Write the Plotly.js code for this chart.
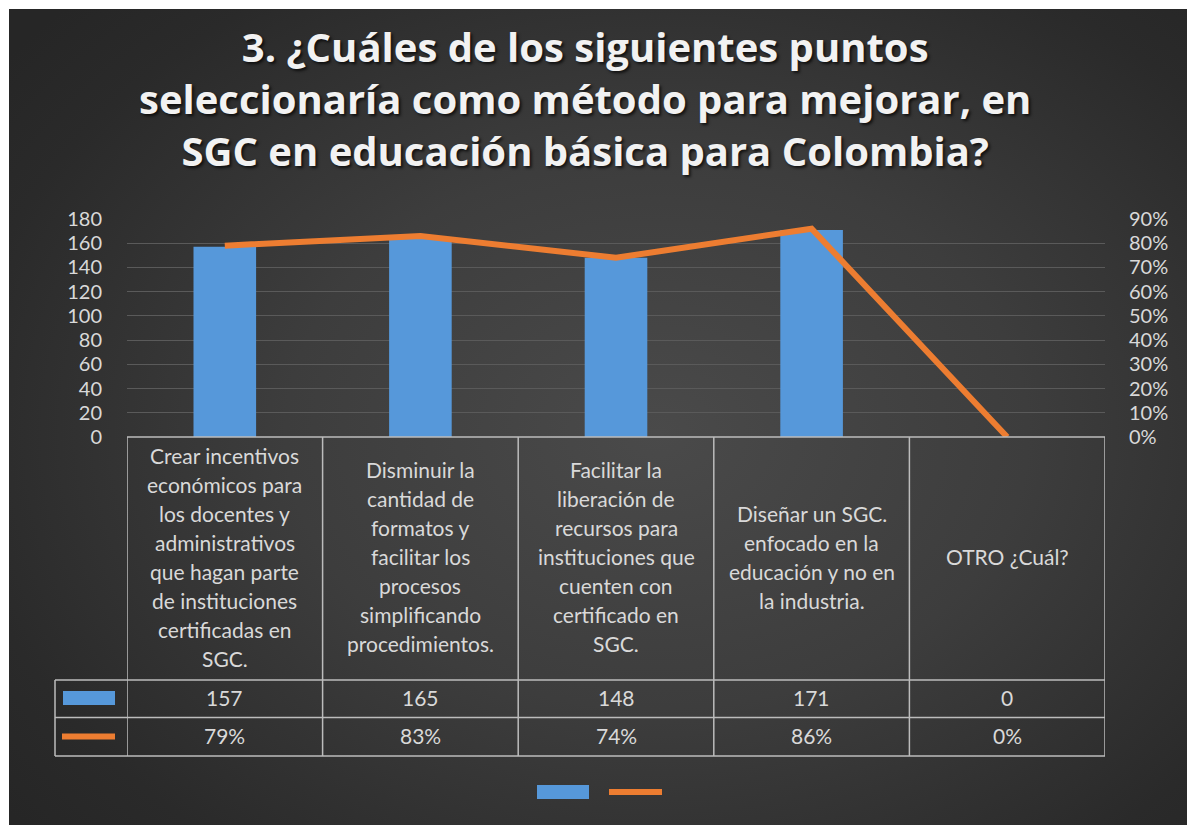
<!DOCTYPE html>
<html>
<head>
<meta charset="utf-8">
<script src="https://cdn.plot.ly/plotly-3.0.1.min.js"></script>
<style>
  html, body { margin: 0; padding: 0; background: #ffffff; }
  #bg { position: absolute; left: 9px; top: 9px; width: 1178px; height: 816px;
        background: radial-gradient(ellipse 70% 75% at 55% 52%, #4a4a4a 0%, #3d3d3d 45%, #2a2a2a 85%, #262626 100%); }
  #chart { position: absolute; left: 0; top: 0; width: 1187px; height: 825px; }
</style>
</head>
<body>
<div id="bg"></div>
<div id="chart"></div>
<script>
const categories = [
  "Crear incentivos económicos para los docentes y administrativos que hagan parte de instituciones certificadas en SGC.",
  "Disminuir la cantidad de formatos y facilitar los procesos simplificando procedimientos.",
  "Facilitar la liberación de recursos para instituciones que cuenten con certificado en SGC.",
  "Diseñar un SGC. enfocado en la educación y no en la industria.",
  "OTRO ¿Cuál?"
];
const counts = [157, 165, 148, 171, 0];
const percents = [0.79, 0.83, 0.74, 0.86, 0];
const countLabels = ["157", "165", "148", "171", "0"];
const percentLabels = ["79%", "83%", "74%", "86%", "0%"];
const titleText = "3. ¿Cuáles de los siguientes puntos<br>seleccionaría como método para mejorar, en<br>SGC en educación básica para Colombia?";

// layout geometry (pixels)
const W = 1187, H = 825;
const plotL = 127, plotR = 1105, plotT = 219, plotB = 437;
const plotH = plotB - plotT;
const py = p => (plotB - p) / plotH;               // pixel y -> paper y
const px = p => (p - plotL) / (plotR - plotL);     // pixel x -> paper x

function wrap(text, maxChars) {
  const words = text.split(" ");
  const lines = [];
  let cur = "";
  for (const w of words) {
    if (cur === "") cur = w;
    else if ((cur + " " + w).length <= maxChars) cur += " " + w;
    else { lines.push(cur); cur = w; }
  }
  if (cur) lines.push(cur);
  return lines;
}

const textColor = "#d9d9d9";
const gridColor = "#5a5a5a";
const tableColor = "#bcbcbc";
const blue = "#5698da";
const orange = "#ed7d31";

const traces = [
  {
    type: "bar", x: categories, y: counts, width: 0.32,
    marker: { color: blue, line: { width: 0 } },
    hoverinfo: "y", yaxis: "y"
  },
  {
    type: "scatter", mode: "lines", x: categories, y: percents,
    line: { color: orange, width: 6 }, yaxis: "y2", hoverinfo: "y"
  }
];

const shapes = [];
const annotations = [];
const rowTop = 437, row1 = 680, row2 = 717.5, row3 = 756, legL = 55;
const lineSty = { color: tableColor, width: 1.5 };
// horizontal lines
shapes.push({ type: "line", xref: "paper", yref: "paper", x0: 0, x1: 1, y0: py(rowTop), y1: py(rowTop), line: lineSty });
[row1, row2, row3].forEach(r => shapes.push({ type: "line", xref: "paper", yref: "paper", x0: px(legL), x1: 1, y0: py(r), y1: py(r), line: lineSty }));
// vertical lines
shapes.push({ type: "line", xref: "paper", yref: "paper", x0: px(legL), x1: px(legL), y0: py(row1), y1: py(row3), line: lineSty });
for (let i = 0; i <= categories.length; i++) {
  shapes.push({ type: "line", xref: "x", yref: "paper", x0: i - 0.5, x1: i - 0.5, y0: py(rowTop), y1: py(row3), line: lineSty });
}
// legend swatches in table
shapes.push({ type: "rect", xref: "paper", yref: "paper", x0: px(63), x1: px(115), y0: py(705), y1: py(691), fillcolor: blue, line: { width: 0 } });
shapes.push({ type: "line", xref: "paper", yref: "paper", x0: px(62), x1: px(115), y0: py(736.5), y1: py(736.5), line: { color: orange, width: 6 } });
// bottom legend
shapes.push({ type: "rect", xref: "paper", yref: "paper", x0: px(537), x1: px(589), y0: py(799), y1: py(785), fillcolor: blue, line: { width: 0 } });
shapes.push({ type: "line", xref: "paper", yref: "paper", x0: px(609), x1: px(662), y0: py(792), y1: py(792), line: { color: orange, width: 6 } });

const cellFont = { family: "Lato, 'Open Sans', sans-serif", size: 21, color: textColor };
const catCenter = py((rowTop + row1) / 2);
categories.forEach((c, i) => {
  const lines = wrap(c, 17);
  const n = lines.length;
  lines.forEach((ln, j) => {
    annotations.push({ x: i, xref: "x", y: catCenter, yref: "paper", yshift: -(j - (n - 1) / 2) * 29 + 2,
      text: ln, showarrow: false, font: cellFont, xanchor: "center", yanchor: "middle" });
  });
  annotations.push({ x: i, xref: "x", y: py((row1 + row2) / 2), yref: "paper", text: countLabels[i], yshift: 1,
    showarrow: false, font: cellFont, xanchor: "center", yanchor: "middle" });
  annotations.push({ x: i, xref: "x", y: py((row2 + row3) / 2), yref: "paper", text: percentLabels[i], yshift: 1,
    showarrow: false, font: cellFont, xanchor: "center", yanchor: "middle" });
});
// title
annotations.push({
  text: titleText, xref: "paper", x: px(585), xanchor: "center", yref: "paper", y: py(98), yanchor: "middle",
  showarrow: false, align: "center",
  font: { family: "'Open Sans', sans-serif", size: 40, weight: 700, color: "#f2f2f2",
          shadow: "2px 2px 3px rgba(0,0,0,0.7)" }
});

const layout = {
  width: W, height: H,
  margin: { l: plotL, r: W - plotR, t: plotT, b: H - plotB, pad: 0 },
  paper_bgcolor: "rgba(0,0,0,0)", plot_bgcolor: "rgba(0,0,0,0)",
  showlegend: false,
  xaxis: { type: "category", range: [-0.5, 4.5], showticklabels: false, showgrid: false, zeroline: false, showline: false, fixedrange: true },
  yaxis: {
    range: [0, 180], dtick: 20, tick0: 0, showgrid: true, gridcolor: gridColor, gridwidth: 1,
    zeroline: false, showline: false, ticks: "outside", ticklen: 20, tickcolor: "rgba(0,0,0,0)",
    tickfont: { family: "Lato, sans-serif", size: 20, color: textColor }
  },
  yaxis2: {
    overlaying: "y", side: "right", range: [0, 0.9], dtick: 0.1, tick0: 0, tickformat: ".0%",
    showgrid: false, zeroline: false, showline: false, ticks: "outside", ticklen: 19, tickcolor: "rgba(0,0,0,0)",
    tickfont: { family: "Lato, sans-serif", size: 20, color: textColor }
  },
  shapes: shapes,
  annotations: annotations
};

Plotly.newPlot("chart", traces, layout, { displayModeBar: false, staticPlot: true });
</script>
</body>
</html>
